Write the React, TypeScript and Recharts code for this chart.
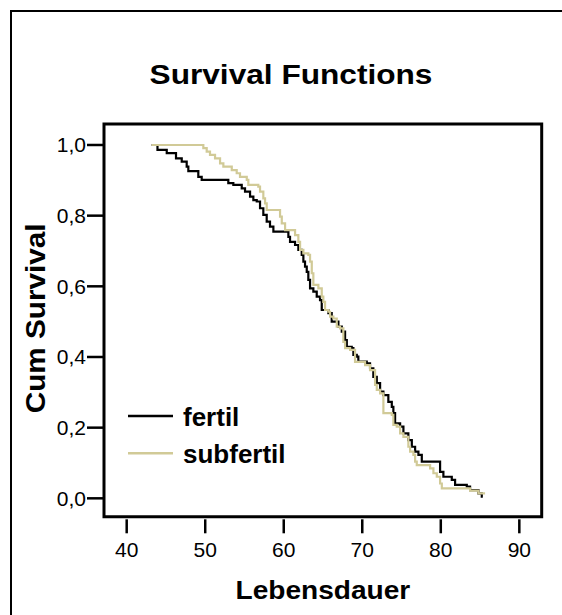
import React from "react";
import { LineChart, Line, XAxis, YAxis, Legend, ReferenceArea } from "recharts";

// Kaplan-Meier steps (time, cumulative survival)
const fertilTimes = [43.18, 43.92, 45.1, 46.28, 47.01, 47.64, 47.85, 49.12, 49.55, 52.94, 53.58, 54.65, 55.07, 55.71, 56.13, 56.56, 56.98, 57.4, 57.83, 58.25, 58.68, 60.59, 60.8, 61.44, 61.86, 62.29, 62.5, 62.71, 62.93, 63.13, 63.35, 63.77, 64.2, 64.62, 64.84, 65.68, 66.11, 66.96, 67.39, 67.81, 68.03, 68.66, 68.87, 69.3, 69.5, 70.57, 70.99, 71.41, 71.85, 72.27, 72.69, 73.32, 73.76, 73.96, 74.18, 74.82, 75.24, 75.87, 76.31, 76.73, 77.15, 77.58, 79.91, 80.33, 81.4, 81.82, 83.31, 83.73, 84.79, 85.22, 85.35];
const fertilSurvival = [1.0, 0.986, 0.977, 0.962, 0.953, 0.939, 0.926, 0.91, 0.901, 0.892, 0.887, 0.877, 0.868, 0.854, 0.844, 0.84, 0.821, 0.802, 0.783, 0.769, 0.755, 0.74, 0.726, 0.717, 0.703, 0.689, 0.67, 0.656, 0.641, 0.618, 0.594, 0.585, 0.571, 0.561, 0.533, 0.524, 0.5, 0.486, 0.472, 0.448, 0.429, 0.425, 0.406, 0.401, 0.387, 0.382, 0.368, 0.344, 0.326, 0.302, 0.292, 0.273, 0.259, 0.241, 0.212, 0.203, 0.184, 0.165, 0.146, 0.132, 0.123, 0.104, 0.075, 0.061, 0.052, 0.038, 0.033, 0.023, 0.014, 0.005, 0.005];

const subfertilTimes = [43.18, 49.76, 50.19, 50.61, 51.25, 51.89, 52.31, 53.38, 54.01, 54.43, 55.29, 55.49, 56.76, 56.98, 57.4, 57.62, 57.83, 59.53, 59.75, 60.17, 61.44, 61.86, 62.08, 62.5, 63.13, 63.35, 63.57, 63.77, 64.41, 64.84, 65.04, 65.26, 65.68, 65.9, 66.32, 66.75, 67.17, 67.59, 67.81, 68.45, 69.08, 70.36, 70.99, 71.63, 71.85, 72.27, 72.69, 73.76, 73.96, 74.39, 74.82, 75.24, 75.87, 76.09, 76.51, 76.73, 76.94, 78.64, 79.06, 79.49, 79.91, 80.13, 83.73, 84.79, 85.64];
const subfertilSurvival = [1.0, 0.991, 0.981, 0.972, 0.962, 0.948, 0.939, 0.929, 0.92, 0.91, 0.901, 0.887, 0.882, 0.868, 0.849, 0.835, 0.816, 0.797, 0.778, 0.759, 0.745, 0.726, 0.703, 0.693, 0.689, 0.67, 0.637, 0.604, 0.594, 0.571, 0.556, 0.533, 0.528, 0.514, 0.509, 0.486, 0.481, 0.443, 0.425, 0.42, 0.386, 0.377, 0.363, 0.321, 0.307, 0.297, 0.241, 0.236, 0.208, 0.203, 0.184, 0.174, 0.146, 0.132, 0.123, 0.104, 0.094, 0.085, 0.071, 0.061, 0.042, 0.028, 0.022, 0.014, 0.014];

const xTicks = [40, 50, 60, 70, 80, 90];
const yTicks = [0, 0.2, 0.4, 0.6, 0.8, 1.0];
const seriesNames = ["fertil", "subfertil"];
const seriesColors = ["#000000", "#d1ca97"];

const X_MIN = 37.11;
const X_MAX = 92.85;
const Y_MIN = -0.052;
const Y_MAX = 1.0594;
const FONT = "'Liberation Sans', Arial, Helvetica, sans-serif";

const toRows = (times: number[], surv: number[]) => times.map((t, i) => ({ t, s: surv[i] }));
const fertilData = toRows(fertilTimes, fertilSurvival);
const subfertilData = toRows(subfertilTimes, subfertilSurvival);

// SPSS output looks a bit wider than plain Arial, so stretch along the text direction
const StretchText = ({ x, y, rotate = 0, sx, size, children }: any) => (
  <text
    transform={`translate(${x},${y}) rotate(${rotate}) scale(${sx},1)`}
    textAnchor="middle"
    fontFamily={FONT}
    fontWeight="bold"
    fontSize={size}
    fill="#000"
  >
    {children}
  </text>
);

const XTick = ({ x, y, payload }: any) => (
  <g>
    <line x1={x} x2={x} y1={y + 2.6} y2={y + 16.6} stroke="#000" strokeWidth={2.5} />
    <text x={x} y={y + 40.6} textAnchor="middle" fontFamily={FONT} fontSize={21} fill="#000">
      {payload.value}
    </text>
  </g>
);

const LegendBox = () => (
  <svg width={200} height={80}>
    {seriesNames.map((name, i) => (
      <g key={name}>
        <line x1={0} x2={45} y1={16 + i * 37.3} y2={16 + i * 37.3} stroke={seriesColors[i]} strokeWidth={2.5} />
        <text x={55} y={26 + i * 36.7} fontFamily={FONT} fontWeight="bold" fontSize={26} fill="#000">
          {name}
        </text>
      </g>
    ))}
  </svg>
);

const App = () => {
  return (
    <div style={{ position: "absolute", left: 0, top: 0, width: 562, height: 615, overflow: "hidden", background: "#fff" }}>
      <div style={{ position: "absolute", left: 10, top: 10, width: 700, height: 800, border: "2px solid #000" }} />
      <div style={{ position: "absolute", left: 0, top: 0 }}>
        <LineChart width={562} height={615} margin={{ top: 124, right: 20.3, bottom: 38.3, left: 0 }}>
          <XAxis
            dataKey="t"
            type="number"
            domain={[X_MIN, X_MAX]}
            ticks={xTicks}
            allowDataOverflow
            height={60}
            axisLine={false}
            tickLine={false}
            tickSize={0}
            tickMargin={0}
            tick={<XTick />}
            label={{
              content: (p: any) => (
                <StretchText x={p.viewBox.x + p.viewBox.width / 2} y={p.viewBox.y + 82} sx={1.08} size={26}>
                  Lebensdauer
                </StretchText>
              ),
            }}
          />
          <YAxis
            type="number"
            domain={[Y_MIN, Y_MAX]}
            ticks={yTicks}
            allowDataOverflow
            width={104}
            axisLine={false}
            tickSize={17}
            tickMargin={1}
            tickLine={{ stroke: "#000", strokeWidth: 2.5 }}
            tick={{ fill: "#000", fontSize: 21, fontFamily: FONT }}
            tickFormatter={(v: number) => v.toFixed(1).replace(".", ",")}
            label={{
              content: (p: any) => (
                <StretchText x={45} y={p.viewBox.y + p.viewBox.height / 2 - 2} rotate={-90} sx={1.1} size={27}>
                  Cum Survival
                </StretchText>
              ),
            }}
          />
          <ReferenceArea
            x1={X_MIN}
            x2={X_MAX}
            y1={Y_MIN}
            y2={Y_MAX}
            fill="none"
            stroke="#000"
            strokeWidth={3}
            ifOverflow="visible"
          />
          <Line data={fertilData} dataKey="s" name={seriesNames[0]} type="stepAfter" stroke={seriesColors[0]} strokeWidth={2.2} dot={false} isAnimationActive={false} />
          <Line data={subfertilData} dataKey="s" name={seriesNames[1]} type="stepAfter" stroke={seriesColors[1]} strokeWidth={2.2} dot={false} isAnimationActive={false} />
          <Legend
            layout="vertical"
            align="center"
            verticalAlign="middle"
            content={<LegendBox />}
            wrapperStyle={{ left: 128, top: 400, width: 200, height: 80 }}
          />
        </LineChart>
      </div>
      <svg style={{ position: "absolute", left: 0, top: 0 }} width={562} height={120}>
        <StretchText x={291} y={84} sx={1.13} size={28}>
          Survival Functions
        </StretchText>
      </svg>
    </div>
  );
};

export default App;
